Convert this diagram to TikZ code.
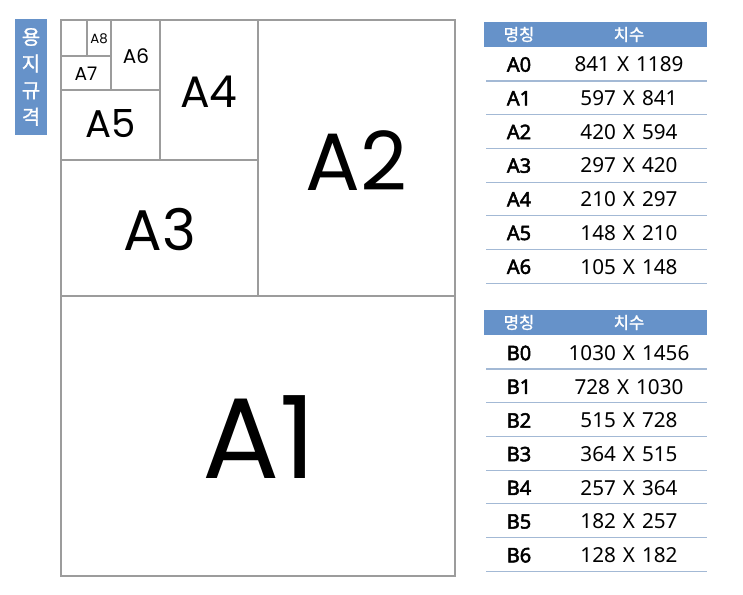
\documentclass[tikz,border=0pt]{standalone}
\usepackage{fontspec}
\setmainfont{Noto Sans}
\newfontfamily\namefont{Noto Sans}[FakeBold=2.4]
\newfontfamily\kofont{Noto Sans CJK KR}[FakeBold=1.3]
\newfontfamily\paperfont{Poppins}
\usepackage{tikz}
\usetikzlibrary{positioning}
\usetikzlibrary{fit}

\definecolor{headblue}{HTML}{6692C9}
\definecolor{rowline}{HTML}{A3B9D5}
\definecolor{sheetgray}{HTML}{9C9C9C}

\newcommand{\papsize}[1]{\fontsize{#1}{#1}\selectfont}
\newcommand{\widespace}{\spaceskip=0.34em\relax}

\tikzset{
    sheet/.style = {draw = sheetgray, line width = 0.8pt, inner sep = 0pt},
    sheetlabel/.style = {draw = none, inner sep = 0pt, anchor = base},
    bluebox/.style = {fill = headblue, draw = none, inner sep = 0pt},
    headtext/.style = {draw = none, text = white, inner sep = 0pt, font = \kofont\papsize{12.5}},
    namecell/.style = {draw = none, inner sep = 0pt, font = \namefont\papsize{15}},
    sizecell/.style = {draw = none, inner sep = 0pt, font = \papsize{15.5}},
    tablerule/.style = {draw = rowline, line width = 0.8pt}
}

\begin{document}
\begin{tikzpicture}[x = 0.75pt, y = -0.75pt]
    \useasboundingbox (0,0) rectangle (743,594);

    % title
    \node[bluebox, fit = {(15,19) (47,135)}] (title) {};
    \node[headtext, align = center, font = \kofont\fontsize{15}{20}\selectfont] at (title) (titletext) {용\\지\\규\\격};

    % paper sheets
    \node[sheet, fit = {(61,296) (455,576)}] (a1) {};
    \node[sheet, fit = {(258,20) (455,296)}] (a2) {};
    \node[sheet, fit = {(61,160) (258,296)}] (a3) {};
    \node[sheet, fit = {(160,20) (258,160)}] (a4) {};
    \node[sheet, fit = {(61,90) (160,160)}] (a5) {};
    \node[sheet, fit = {(111,20) (160,90)}] (a6) {};
    \node[sheet, fit = {(61,56) (111,90)}] (a7) {};
    \node[sheet, fit = {(87,20) (111,56)}] (a8) {};
    \node[sheet, fit = {(61,20) (87,56)}] (a9) {};

    \node[sheetlabel, font = \paperfont\papsize{86}] at (259,478) (a1label) {A1};
    \node[sheetlabel, font = \paperfont\papsize{61}] at (356,190) (a2label) {A2};
    \node[sheetlabel, font = \paperfont\papsize{43}] at (160,250) (a3label) {A3};
    \node[sheetlabel, font = \paperfont\papsize{33}] at (209,107) (a4label) {A4};
    \node[sheetlabel, font = \paperfont\papsize{29}] at (111,137) (a5label) {A5};
    \node[sheetlabel, font = \paperfont\papsize{15}] at (136,63) (a6label) {A6};
    \node[sheetlabel, font = \paperfont\papsize{14}] at (86,80) (a7label) {A7};
    \node[sheetlabel, font = \paperfont\papsize{10}] at (99,43) (a8label) {A8};

    % A table
    \node[bluebox, fit = {(484,22) (707,47)}] (ahead) {};
    \node[headtext] at (519,34.5) (aname) {명칭};
    \node[headtext] at (629,34.5) (asize) {치수};
    \foreach \nm/\sz [count=\i from 0] in {A0/841 X 1189, A1/597 X 841, A2/420 X 594,
        A3/297 X 420, A4/210 X 297, A5/148 X 210, A6/105 X 148} {
        \node[namecell] at (519, {64.5+33.7*\i}) (row\nm) {\nm};
        \node[sizecell] at (629, {64.5+33.7*\i}) (size\nm) {\widespace\sz};
        \draw[tablerule] (486, {81+33.7*\i}) -- (707, {81+33.7*\i});
    }

    % B table
    \node[bluebox, fit = {(484,310) (707,335)}] (bhead) {};
    \node[headtext] at (519,322.5) (bname) {명칭};
    \node[headtext] at (629,322.5) (bsize) {치수};
    \foreach \nm/\sz [count=\i from 0] in {B0/1030 X 1456, B1/728 X 1030, B2/515 X 728,
        B3/364 X 515, B4/257 X 364, B5/182 X 257, B6/128 X 182} {
        \node[namecell] at (519, {353+33.7*\i}) (row\nm) {\nm};
        \node[sizecell] at (629, {353+33.7*\i}) (size\nm) {\widespace\sz};
        \draw[tablerule] (486, {369+33.7*\i}) -- (707, {369+33.7*\i});
    }
\end{tikzpicture}
\end{document}
